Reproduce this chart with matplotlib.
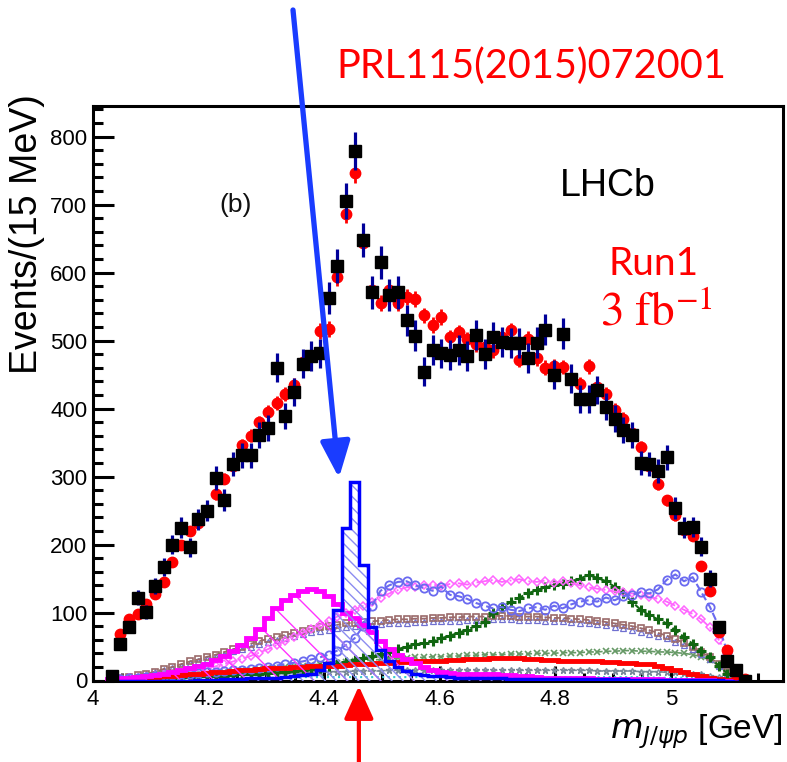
import numpy as np
import matplotlib
matplotlib.use("Agg")
import matplotlib.pyplot as plt
from matplotlib.ticker import MultipleLocator, FixedLocator

# ---------------- binning: 15 MeV bins in m(J/psi p) ----------------
bin_lo = 4.025
bin_width = 0.015
n_bins = 74
edges = bin_lo + bin_width * np.arange(n_bins + 1)
centers = 0.5 * (edges[:-1] + edges[1:])

# ---------------- data (events per bin) ----------------
data = [7, 54, 78, 122, 101, 139, 167, 200, 225, 196,
        237, 250, 298, 266, 318, 331, 331, 361, 371, 460,
        389, 424, 466, 477, 481, 563, 610, 705, 779, 648,
        571, 615, 567, 571, 530, 507, 454, 486, 481, 479,
        486, 477, 508, 480, 505, 498, 496, 496, 474, 497,
        516, 450, 510, 444, 414, 414, 427, 403, 385, 368,
        361, 320, 318, 308, 328, 254, 225, 226, 197, 150,
        78, 29, 15, 0]

# ---------------- full fit projection ----------------
fit = [5, 69, 91, 98, 112, 127, 145, 175, 199, 220,
       232, 248, 274, 297, 315, 346, 360, 380, 395, 408,
       421, 434, 469, 477, 514, 517, 593, 686, 746, 643,
       575, 555, 574, 555, 564, 561, 537, 523, 535, 505,
       512, 502, 495, 490, 486, 505, 515, 472, 503, 474,
       460, 462, 461, 445, 436, 462, 432, 421, 398, 385,
       364, 343, 315, 289, 265, 243, 221, 213, 169, 131,
       71, 45, 10, 2]

# ---------------- fit components ----------------
pc4450 = [0, 0, 0, 0, 0, 0, 0, 0, 0, 0,
          1, 1, 1, 2, 2, 2, 3, 3, 4, 4,
          5, 6, 8, 10, 16, 26, 104, 224, 292, 170,
          79, 45, 28, 20, 14, 10, 8, 7, 6, 5,
          4, 4, 3, 3, 3, 3, 2, 2, 2, 2,
          2, 2, 2, 2, 2, 2, 2, 2, 2, 2,
          1, 1, 1, 1, 1, 1, 1, 1, 1, 1,
          1, 0, 0, 0]

pc4380 = [2, 3, 4, 5, 6, 8, 10, 12, 15, 18,
          21, 25, 30, 36, 43, 52, 62, 76, 92, 106,
          118, 126, 132, 134, 131, 124, 112, 100, 92, 82,
          72, 58, 46, 38, 32, 26, 20, 16, 13, 11,
          10, 10, 9, 9, 9, 8, 8, 7, 6, 5,
          4, 4, 3, 3, 3, 3, 2, 2, 2, 2,
          2, 2, 2, 2, 1, 1, 1, 1, 1, 1,
          0, 0, 0, 0]

red_comp = [0, 1, 2, 3, 4, 5, 6, 7, 8, 9,
            10, 11, 12, 13, 14, 15, 16, 17, 18, 18,
            19, 20, 20, 21, 21, 22, 22, 23, 24, 25,
            25, 26, 26, 27, 27, 28, 28, 29, 29, 30,
            30, 31, 32, 32, 33, 33, 33, 33, 32, 31,
            30, 30, 29, 29, 28, 28, 28, 27, 27, 26,
            26, 25, 24, 21, 18, 15, 12, 10, 7, 4,
            2, 1, 0, 0]

pink_diam = [1, 2, 3, 4, 5, 6, 8, 9, 11, 13,
             15, 18, 21, 24, 28, 32, 36, 41, 46, 52,
             58, 64, 70, 76, 82, 88, 94, 99, 104, 110,
             116, 122, 128, 133, 137, 138, 140, 141, 139, 142,
             143, 141, 144, 146, 148, 145, 147, 149, 146, 145,
             147, 144, 146, 143, 140, 137, 135, 133, 131, 130,
             128, 126, 123, 120, 116, 110, 104, 98, 90, 78,
             60, 38, 12, 2]

blue_circ = [1, 2, 3, 4, 5, 6, 7, 8, 9, 10,
             11, 12, 13, 14, 15, 16, 17, 18, 20, 22,
             24, 26, 28, 31, 34, 38, 44, 52, 62, 80,
             110, 132, 140, 145, 146, 140, 136, 132, 138, 126,
             124, 120, 114, 110, 106, 108, 104, 102, 106, 108,
             104, 110, 106, 112, 116, 118, 116, 122, 118, 124,
             126, 130, 128, 134, 148, 156, 146, 152, 130, 108,
             80, 42, 10, 1]

brown_sq = [1, 3, 5, 8, 10, 13, 17, 20, 24, 28,
            31, 35, 38, 42, 46, 50, 54, 58, 61, 64,
            67, 70, 73, 76, 78, 80, 82, 84, 85, 86,
            87, 88, 89, 90, 90, 91, 91, 92, 92, 93,
            93, 94, 94, 94, 95, 95, 95, 94, 94, 94,
            93, 92, 92, 91, 90, 89, 88, 86, 84, 82,
            80, 77, 74, 70, 66, 61, 55, 49, 42, 34,
            24, 12, 3, 0]

slate_tri = [1, 2, 4, 7, 9, 12, 15, 18, 22, 26,
             29, 32, 35, 39, 43, 46, 50, 54, 57, 60,
             63, 66, 69, 71, 73, 75, 77, 79, 80, 81,
             82, 83, 84, 85, 85, 86, 86, 87, 87, 88,
             88, 89, 89, 89, 90, 90, 90, 89, 89, 89,
             88, 87, 87, 86, 85, 84, 83, 81, 79, 77,
             75, 72, 69, 66, 62, 57, 52, 46, 39, 31,
             22, 11, 3, 0]

green_plus = [1, 1, 2, 2, 3, 3, 4, 4, 5, 5,
              6, 6, 7, 7, 8, 9, 10, 10, 11, 12,
              13, 14, 15, 17, 19, 21, 24, 27, 30, 33,
              36, 39, 42, 46, 50, 53, 55, 58, 62, 66,
              70, 75, 80, 86, 100, 108, 115, 122, 128, 133,
              137, 140, 142, 146, 150, 155, 151, 146, 138, 128,
              116, 104, 96, 90, 84, 74, 64, 54, 44, 34,
              22, 10, 3, 0]

grey_x = [0, 1, 2, 3, 4, 5, 6, 7, 8, 9,
          10, 11, 12, 13, 14, 15, 16, 17, 18, 19,
          20, 21, 22, 23, 24, 25, 26, 27, 28, 29,
          30, 31, 32, 33, 33, 34, 34, 35, 35, 36,
          36, 37, 37, 38, 38, 38, 39, 39, 39, 40,
          40, 40, 41, 41, 41, 42, 42, 43, 43, 44,
          44, 43, 43, 42, 42, 41, 40, 38, 35, 30,
          22, 12, 4, 0]

grey_star = [0, 1, 1, 2, 2, 3, 3, 4, 4, 5,
             5, 6, 6, 7, 7, 8, 8, 9, 9, 10,
             10, 11, 11, 12, 12, 13, 13, 13, 14, 14,
             14, 14, 15, 15, 15, 15, 15, 15, 15, 15,
             15, 15, 15, 15, 15, 15, 15, 15, 15, 15,
             15, 15, 15, 15, 15, 15, 14, 14, 14, 14,
             14, 13, 13, 13, 12, 12, 11, 10, 9, 7,
             5, 3, 1, 0]

cyan_dot = [0, 0, 1, 1, 1, 1, 2, 2, 2, 2,
            2, 3, 3, 3, 3, 3, 4, 4, 4, 4,
            4, 4, 5, 5, 5, 5, 5, 5, 5, 5,
            5, 5, 5, 5, 5, 5, 5, 5, 5, 5,
            5, 5, 5, 5, 5, 5, 5, 5, 5, 5,
            5, 5, 5, 5, 5, 5, 5, 5, 5, 5,
            5, 5, 5, 4, 4, 4, 4, 3, 3, 3,
            2, 1, 0, 0]

x_ticks = [4.0, 4.2, 4.4, 4.6, 4.8, 5.0]
x_tick_labels = ["4", "4.2", "4.4", "4.6", "4.8", "5"]
y_ticks = [0, 100, 200, 300, 400, 500, 600, 700, 800]

# ---------------- figure ----------------
W, H = 787, 762
fig = plt.figure(figsize=(W / 100, H / 100), dpi=100)
ax = fig.add_axes([93 / W, (H - 680.5) / H, (783 - 93) / W, (680.5 - 106) / H])
ax.set_xlim(4.0, 5.1938)
ax.set_ylim(0, 845)

SANS = ["Liberation Sans", "DejaVu Sans"]

# background-like components drawn as dashed lines with markers
ax.plot(centers, cyan_dot, color="#33cccc", ls=":", lw=1.5, zorder=2)
ax.plot(centers, grey_star, color="#778899", ls="--", lw=1.2, marker="*",
        ms=5, mfc="none", mew=1.0, zorder=2)
ax.plot(centers, grey_x, color="#669966", ls="--", lw=1.2, marker="x",
        ms=5, mew=1.2, zorder=2)
ax.plot(centers, slate_tri, color="#7070d0", ls=":", lw=1.3, marker="^",
        ms=4, mfc="none", mew=0.9, zorder=2)
ax.plot(centers, brown_sq, color="#9a6a6a", ls="--", lw=1.3, marker="s",
        ms=5, mfc="none", mew=1.2, zorder=2)
ax.plot(centers, green_plus, color="#116611", ls="--", lw=1.5, marker="+",
        ms=7, mew=2.2, zorder=2)
ax.plot(centers, pink_diam, color="#ff66ff", ls="-.", lw=1.3, marker="D",
        ms=4.5, mfc="none", mew=1.1, zorder=2)
ax.plot(centers, blue_circ, color="#6a6af0", ls="--", lw=1.5, marker="o",
        ms=6, mfc="none", mew=1.3, zorder=2)
ax.stairs(red_comp, edges, color="#ff0000", lw=3.5, zorder=3)

# P_c(4380)+ : thick magenta histogram with sparse hatching
plt.rcParams["hatch.linewidth"] = 1.0
ax.stairs(pc4380, edges, fill=True, facecolor="none", edgecolor="#ff33ff",
          hatch="\\", lw=0, zorder=3)
ax.stairs(pc4380, edges, color="#ff00ff", lw=3.5, zorder=3.5)

# P_c(4450)+ : blue histogram with dense hatching
ax.stairs(pc4450, edges, fill=True, facecolor="none", edgecolor="#8c8cf0",
          hatch="\\\\\\", lw=0, zorder=4)
ax.stairs(pc4450, edges, color="#0000ff", lw=2.5, zorder=4.5)

# fit and data points
fit_arr = np.array(fit, dtype=float)
ax.errorbar(centers, fit_arr, yerr=0.5 * np.sqrt(fit_arr), fmt="o",
            color="#ff0000", ms=7.5, elinewidth=2.0, capsize=0, zorder=5)
data_arr = np.array(data, dtype=float)
ax.errorbar(centers, data_arr, yerr=np.sqrt(data_arr), fmt="s",
            mfc="black", mec="black", ms=8.8, ecolor="#000099",
            elinewidth=2.3, capsize=0, zorder=6)

# ---------------- axes styling ----------------
for s in ax.spines.values():
    s.set_linewidth(2.2)
ax.xaxis.set_major_locator(FixedLocator(x_ticks))
ax.set_xticklabels(x_tick_labels)
ax.xaxis.set_minor_locator(MultipleLocator(0.05))
ax.yaxis.set_major_locator(FixedLocator(y_ticks))
ax.yaxis.set_minor_locator(MultipleLocator(20))
ax.tick_params(axis="x", which="major", direction="in", length=11, width=2.2,
               pad=6)
ax.tick_params(axis="x", which="minor", direction="in", length=5.5, width=2.2)
ax.tick_params(axis="y", which="major", direction="in", length=15, width=2.2,
               pad=4)
ax.tick_params(axis="y", which="minor", direction="in", length=7.5, width=2.2)
for lab in ax.get_xticklabels() + ax.get_yticklabels():
    lab.set_fontfamily(SANS)
    lab.set_fontsize(16)

ax.set_ylabel("Events/(15 MeV)", fontsize=27, family=SANS, loc="top")
ax.yaxis.set_label_coords(-0.07, 1.02)
ax.set_xlabel(r"$m_{J/\psi p}$ [GeV]", fontsize=24, family=SANS, loc="right")
ax.xaxis.set_label_coords(1.0, -0.055)

# ---------------- annotations ----------------
ax.text(4.246, 699, "(b)", fontsize=19, family=SANS, ha="center",
        va="center", color="#111111")
ax.text(4.89, 728, "LHCb", fontsize=27, family=SANS, ha="center",
        va="center", color="black")
ax.text(4.97, 612, "Run1", fontsize=28, family=["Lato", "DejaVu Sans"],
        ha="center", va="center", color="#ff0000")
ax.text(4.974, 540, r"$3\ \mathrm{fb}^{-1}$", fontsize=34,
        math_fontfamily="stix", ha="center", va="center", color="#ff0000")
fig.text(531 / W, 1 - 66 / H, "PRL115(2015)072001", fontsize=28.5,
         family=["Lato", "DejaVu Sans"], ha="center", va="center",
         color="#ff0000")

# arrow pointing at the narrow peak
ax.annotate("", xy=(4.4256, 298), xycoords="data",
            xytext=(293 / W, 1 - 10 / H), textcoords="figure fraction",
            arrowprops=dict(arrowstyle="-|>,head_length=1.1,head_width=0.45",
                            color="#1a3cff", lw=3.8, mutation_scale=20,
                            shrinkA=0, shrinkB=0),
            annotation_clip=False, zorder=10)
# arrow from below the axis at the peak position
ax.annotate("", xy=(4.46, 1 - 686 / H), xycoords=("data", "figure fraction"),
            xytext=(4.46, 0.0), textcoords=("data", "figure fraction"),
            arrowprops=dict(arrowstyle="-|>,head_length=1.0,head_width=0.45",
                            color="#ff0000", lw=3.0, mutation_scale=20,
                            shrinkA=0, shrinkB=0),
            annotation_clip=False, zorder=10)

fig.savefig("out.png", dpi=100)
